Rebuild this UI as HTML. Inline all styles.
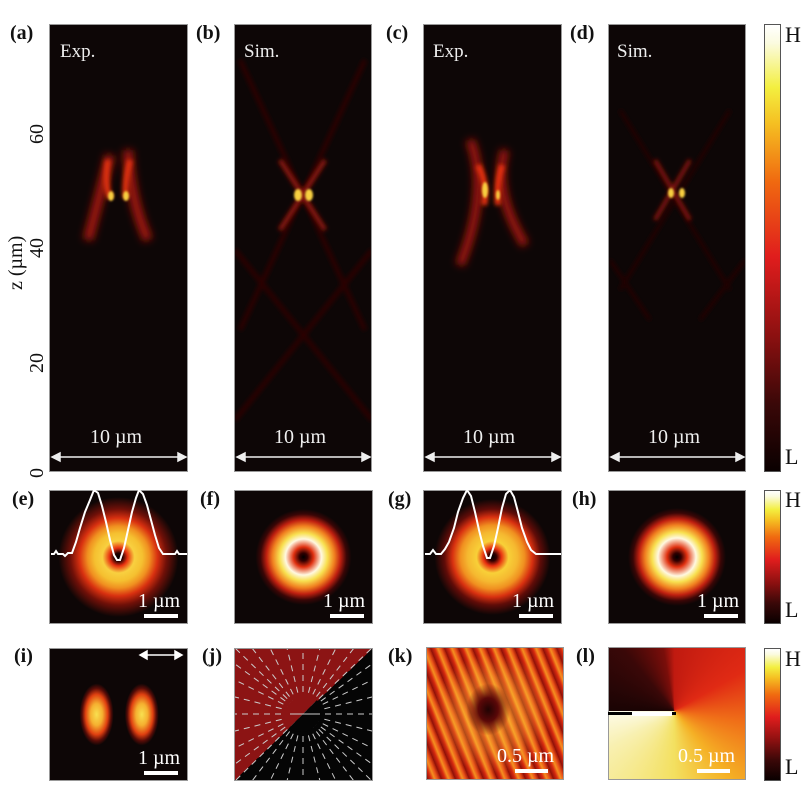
<!DOCTYPE html>
<html><head><meta charset="utf-8"><style>
body{margin:0;background:#fff;}
#w{position:relative;width:812px;height:794px;overflow:hidden;background:#fff;font-family:"Liberation Serif",serif;}
.p{position:absolute;box-sizing:border-box;border:1px solid #999;background:#0d0606;overflow:hidden;}
.lab{position:absolute;font-weight:bold;font-size:20px;color:#111;}
.cb{position:absolute;left:764px;width:17px;box-sizing:border-box;border:1px solid #555;background:linear-gradient(to top,#0a0000 0%,#3a0808 15%,#8a1010 30%,#e01d1d 48%,#f06a10 65%,#f5c022 78%,#f3ef40 86%,#fbfbe0 96%,#fff 100%);}
.hl{position:absolute;left:785px;font-size:22px;color:#111;}
svg{position:absolute;left:0;top:0;}
</style></head><body><div id="w">
<div class="p" style="left:49px;top:24px;width:139px;height:448px"></div>
<div class="p" style="left:234px;top:24px;width:138px;height:448px"></div>
<div class="p" style="left:423px;top:24px;width:139px;height:448px"></div>
<div class="p" style="left:608px;top:24px;width:138px;height:448px"></div>
<div class="p" style="left:49px;top:490px;width:139px;height:134px;background:radial-gradient(circle at 50% 50%,#000 0,#200 4px,#e83010 9px,#f8d040 16px,#f5c030 24px,#f09020 31px,#d83010 39px,#701008 48px,#0d0606 60px)"></div>
<div class="p" style="left:234px;top:490px;width:139px;height:134px;background:radial-gradient(circle at 50% 50%,#000 0,#300 4px,#e03010 10px,#fff8e0 18px,#f8e050 24px,#f08020 31px,#c02010 37px,#3a0606 43px,#0d0606 48px)"></div>
<div class="p" style="left:423px;top:490px;width:139px;height:134px;background:radial-gradient(circle at 50% 50%,#000 0,#300 4px,#e83010 9px,#f8d038 16px,#f5b830 25px,#f09020 32px,#d83010 40px,#600c08 48px,#0d0606 58px)"></div>
<div class="p" style="left:608px;top:490px;width:138px;height:134px;background:radial-gradient(circle at 50% 50%,#000 0,#300 4px,#e03010 10px,#fff8e0 19px,#f8e050 25px,#f08020 32px,#c02010 38px,#3a0606 44px,#0d0606 49px)"></div>
<div class="p" style="left:49px;top:648px;width:139px;height:133px;background:radial-gradient(ellipse 17px 31px at 34% 50%,#f8e050 0,#f5b030 35%,#e04010 65%,rgba(120,15,8,0.7) 85%,transparent 100%),radial-gradient(ellipse 17px 31px at 67% 50%,#f8e050 0,#f5b030 35%,#e04010 65%,rgba(120,15,8,0.7) 85%,transparent 100%),#0d0606"></div>
<div class="p" style="left:234px;top:648px;width:139px;height:133px;background:linear-gradient(to bottom right,#8c1414 50%,#050505 50%)"></div>
<div class="p" style="left:426px;top:647px;width:138px;height:133px;background:radial-gradient(ellipse 22px 26px at 45% 47%,#200303 0,#5a0808 45%,transparent 100%),radial-gradient(ellipse 60px 60px at 48% 50%,rgba(250,220,60,0.45) 0,rgba(250,200,60,0.3) 60%,transparent 100%),repeating-linear-gradient(68deg,#8a1008 0,#d82a10 4px,#f59020 7px,#e85018 10px,#a01808 13px),#c02010"></div>
<div class="p" style="left:608px;top:647px;width:138px;height:133px;background:conic-gradient(from 0deg at 48% 48%,#c01a10 0deg,#e02a14 60deg,#f07018 100deg,#f5b025 140deg,#f3e060 180deg,#f8f0b0 240deg,#fdfbe8 270deg,#1a0404 270deg,#3a0808 320deg,#7a0e0a 350deg,#c01a10 360deg)"></div>
<div class="cb" style="top:24px;height:448px"></div>
<div class="cb" style="top:490px;height:134px"></div>
<div class="cb" style="top:648px;height:133px"></div>
<div class="hl" style="top:22px">H</div><div class="hl" style="top:444px">L</div>
<div class="hl" style="top:487px">H</div><div class="hl" style="top:597px">L</div>
<div class="hl" style="top:646px">H</div><div class="hl" style="top:754px">L</div>
<div class="lab" style="left:10px;top:22px">(a)</div>
<div class="lab" style="left:196px;top:22px">(b)</div>
<div class="lab" style="left:386px;top:22px">(c)</div>
<div class="lab" style="left:570px;top:22px">(d)</div>
<div class="lab" style="left:12px;top:488px">(e)</div>
<div class="lab" style="left:200px;top:488px">(f)</div>
<div class="lab" style="left:388px;top:488px">(g)</div>
<div class="lab" style="left:572px;top:488px">(h)</div>
<div class="lab" style="left:14px;top:645px">(i)</div>
<div class="lab" style="left:202px;top:645px">(j)</div>
<div class="lab" style="left:388px;top:645px">(k)</div>
<div class="lab" style="left:576px;top:645px">(l)</div>
<svg width="812" height="794" font-family="Liberation Serif, serif">
<defs>
<filter id="b2" x="-50%" y="-50%" width="200%" height="200%"><feGaussianBlur stdDeviation="2"/></filter>
<filter id="b4" x="-50%" y="-50%" width="200%" height="200%"><feGaussianBlur stdDeviation="4"/></filter>
<filter id="b1" x="-50%" y="-50%" width="200%" height="200%"><feGaussianBlur stdDeviation="1"/></filter>
<clipPath id="ca"><rect x="50" y="25" width="137" height="446"/></clipPath>
<clipPath id="cbb"><rect x="235" y="25" width="136" height="446"/></clipPath>
<clipPath id="cc"><rect x="424" y="25" width="137" height="446"/></clipPath>
<clipPath id="cd"><rect x="609" y="25" width="136" height="446"/></clipPath>
<clipPath id="cj"><rect x="235" y="649" width="137" height="131"/></clipPath>
</defs>
<g clip-path="url(#ca)">
<path d="M110,155 Q100,195 88,240 M128,150 Q130,200 148,240" stroke="#a01808" stroke-width="10" fill="none" filter="url(#b4)"/>
<path d="M108,160 Q104,185 110,198 M130,160 Q124,185 126,198" stroke="#e03010" stroke-width="6" fill="none" filter="url(#b2)"/>
<ellipse cx="111" cy="196" rx="3" ry="5" fill="#f8d040" filter="url(#b1)"/>
<ellipse cx="126" cy="196" rx="3" ry="5" fill="#f8d040" filter="url(#b1)"/>
</g>
<g clip-path="url(#cbb)">
<path d="M240,60 L365,330 M365,60 L240,330 M235,250 L372,420 M372,250 L235,420" stroke="#2a0604" stroke-width="5" fill="none" filter="url(#b2)"/>
<path d="M280,160 L325,230 M325,160 L280,230" stroke="#8a1408" stroke-width="5" fill="none" filter="url(#b2)"/>
<ellipse cx="298" cy="195" rx="4" ry="6" fill="#f8d040" filter="url(#b1)"/>
<ellipse cx="309" cy="195" rx="4" ry="6" fill="#f8d040" filter="url(#b1)"/>
</g>
<g clip-path="url(#cc)">
<path d="M470,140 Q490,190 460,265 M505,150 Q492,190 525,245" stroke="#a01808" stroke-width="9" fill="none" filter="url(#b4)"/>
<path d="M478,165 Q488,185 484,205 M502,165 Q496,185 498,205" stroke="#e83010" stroke-width="6" fill="none" filter="url(#b2)"/>
<ellipse cx="485" cy="190" rx="3" ry="8" fill="#f8d040" filter="url(#b1)"/>
<ellipse cx="498" cy="195" rx="2" ry="5" fill="#f8d040" filter="url(#b1)"/>
</g>
<g clip-path="url(#cd)">
<path d="M620,110 L730,290 M730,110 L620,290 M610,260 L650,320 M745,260 L700,320" stroke="#240504" stroke-width="4" fill="none" filter="url(#b2)"/>
<path d="M655,160 L690,220 M690,160 L655,220" stroke="#8a1408" stroke-width="4" fill="none" filter="url(#b2)"/>
<ellipse cx="671" cy="193" rx="3" ry="5" fill="#f8d040" filter="url(#b1)"/>
<ellipse cx="682" cy="193" rx="3" ry="5" fill="#f8d040" filter="url(#b1)"/>
</g>
<g fill="#eee" font-size="19">
<text x="60" y="57">Exp.</text><text x="244" y="57">Sim.</text>
<text x="433" y="57">Exp.</text><text x="617" y="57">Sim.</text>
<g font-size="20"><text x="90" y="443">10 µm</text><text x="274" y="443">10 µm</text><text x="463" y="443">10 µm</text><text x="648" y="443">10 µm</text></g>
</g>
<g stroke="#eee" stroke-width="1.5" fill="#eee">
<line x1="55" y1="457" x2="183" y2="457"/><path d="M52,457 l8,-4 v8z M186,457 l-8,-4 v8z"/>
<line x1="240" y1="457" x2="367" y2="457"/><path d="M237,457 l8,-4 v8z M370,457 l-8,-4 v8z"/>
<line x1="429" y1="457" x2="557" y2="457"/><path d="M426,457 l8,-4 v8z M560,457 l-8,-4 v8z"/>
<line x1="614" y1="457" x2="741" y2="457"/><path d="M611,457 l8,-4 v8z M744,457 l-8,-4 v8z"/>
</g>
<g font-size="20" fill="#111">
<text transform="translate(43,478) rotate(-90)">0</text>
<text transform="translate(43,373) rotate(-90)">20</text>
<text transform="translate(43,258) rotate(-90)">40</text>
<text transform="translate(43,144) rotate(-90)">60</text>
<text transform="translate(22,290) rotate(-90)">z (µm)</text>
</g>
<polyline fill="none" stroke="#fff" stroke-width="2" points="51,554 54,554 56,551 58,554 63,554 65,556 68,553 72,553 76,542 80,528 85,512 90,500 94,490 98,493 102,506 106,522 110,540 114,555 117,560 120,560 124,548 128,530 132,512 136,498 139,490 143,494 147,505 151,520 155,535 159,548 163,554 175,554 177,551 179,554 187,554"/>
<polyline fill="none" stroke="#fff" stroke-width="2" points="425,554 430,554 433,550 436,554 441,554 445,549 449,542 454,528 458,512 463,498 467,490 471,496 475,512 479,530 483,546 487,558 490,558 494,546 498,528 502,508 506,494 510,490 514,497 518,512 522,528 527,542 531,550 536,554 550,554 555,554 561,554"/>
<g fill="#fff" font-size="20">
<text x="138" y="607">1 µm</text><rect x="144" y="614" width="34" height="4"/>
<text x="323" y="607">1 µm</text><rect x="330" y="614" width="34" height="4"/>
<text x="512" y="607">1 µm</text><rect x="519" y="614" width="34" height="4"/>
<text x="697" y="607">1 µm</text><rect x="704" y="614" width="34" height="4"/>
<text x="138" y="764">1 µm</text><rect x="144" y="771" width="34" height="4"/>
<text x="497" y="762">0.5 µm</text><rect x="515" y="769" width="33" height="4"/>
<text x="678" y="762">0.5 µm</text><rect x="697" y="769" width="33" height="4"/>
</g>
<g stroke="#fff" stroke-width="1.5" fill="#fff"><line x1="144" y1="655" x2="178" y2="655"/><path d="M140,655 l7,-4 v8z M182,655 l-7,-4 v8z"/></g>
<g clip-path="url(#cj)" stroke="#ccc" stroke-width="1">
<g stroke-dasharray="6 5">
<line x1="303" y1="714" x2="235" y2="714"/><line x1="303" y1="714" x2="372" y2="714"/>
<line x1="303" y1="714" x2="303" y2="648"/><line x1="303" y1="714" x2="303" y2="781"/>
<line x1="303" y1="714" x2="235" y2="648"/><line x1="303" y1="714" x2="372" y2="781"/>
<line x1="303" y1="714" x2="235" y2="781"/><line x1="303" y1="714" x2="372" y2="648"/>
<line x1="303" y1="714" x2="270" y2="648"/><line x1="303" y1="714" x2="336" y2="648"/>
<line x1="303" y1="714" x2="270" y2="781"/><line x1="303" y1="714" x2="336" y2="781"/>
<line x1="303" y1="714" x2="235" y2="680"/><line x1="303" y1="714" x2="372" y2="680"/>
<line x1="303" y1="714" x2="235" y2="748"/><line x1="303" y1="714" x2="372" y2="748"/>
<line x1="303" y1="714" x2="252" y2="648"/><line x1="303" y1="714" x2="354" y2="648"/>
<line x1="303" y1="714" x2="252" y2="781"/><line x1="303" y1="714" x2="354" y2="781"/>
<line x1="303" y1="714" x2="235" y2="664"/><line x1="303" y1="714" x2="372" y2="664"/>
<line x1="303" y1="714" x2="235" y2="764"/><line x1="303" y1="714" x2="372" y2="764"/>
<line x1="303" y1="714" x2="235" y2="697"/><line x1="303" y1="714" x2="372" y2="697"/>
<line x1="303" y1="714" x2="235" y2="731"/><line x1="303" y1="714" x2="372" y2="731"/>
<line x1="303" y1="714" x2="287" y2="648"/><line x1="303" y1="714" x2="320" y2="648"/>
<line x1="303" y1="714" x2="287" y2="781"/><line x1="303" y1="714" x2="320" y2="781"/>
</g></g>
<path d="M289,728 L317,700 A20,20 0 0 0 289,728Z" fill="#8c1414"/>
<path d="M289,728 L317,700 A20,20 0 0 1 289,728Z" fill="#050505"/>
<line x1="303" y1="714" x2="320" y2="714" stroke="#ccc" stroke-width="1"/>
<line x1="290" y1="714" x2="303" y2="714" stroke="#ccc" stroke-width="1"/>
<rect x="608" y="712" width="68" height="3" fill="#000"/><rect x="632" y="712" width="40" height="4" fill="#fff"/>
</svg>
</div></body></html>
